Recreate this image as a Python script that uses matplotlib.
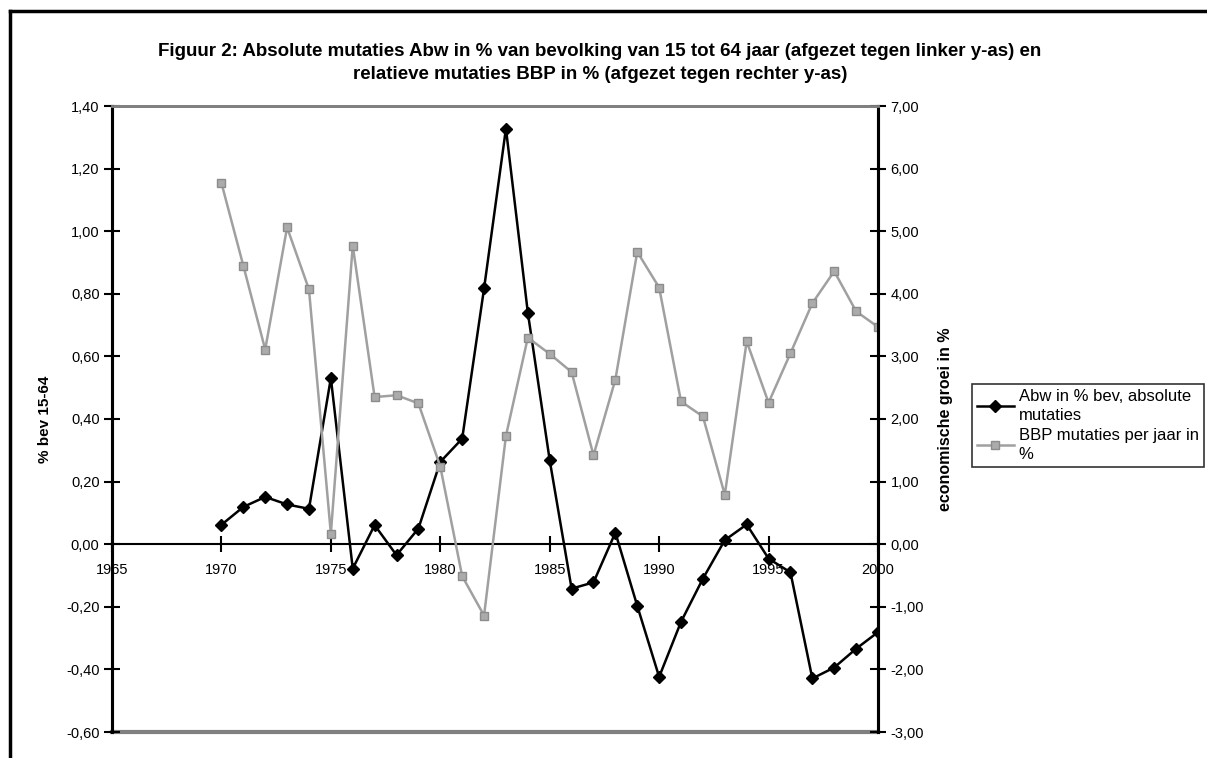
import matplotlib
matplotlib.use("Agg")
import matplotlib.pyplot as plt
from matplotlib.ticker import FuncFormatter, MultipleLocator
from matplotlib.lines import Line2D

plt.rcParams['font.family'] = ['Liberation Sans', 'DejaVu Sans']

years = list(range(1970, 2001))
abw = [0.062, 0.119, 0.151, 0.127, 0.113, 0.531, -0.078, 0.061, -0.035, 0.050,
       0.263, 0.337, 0.817, 1.328, 0.740, 0.268, -0.142, -0.122, 0.037, -0.197,
       -0.424, -0.248, -0.110, 0.013, 0.063, -0.046, -0.090, -0.429, -0.394, -0.334,
       -0.281]
bbp = [5.77, 4.45, 3.11, 5.06, 4.07, 0.17, 4.77, 2.35, 2.38, 2.25,
       1.24, -0.51, -1.14, 1.73, 3.30, 3.04, 2.75, 1.42, 2.63, 4.67,
       4.10, 2.28, 2.04, 0.79, 3.24, 2.26, 3.05, 3.85, 4.36, 3.72,
       3.47]

title = ("Figuur 2: Absolute mutaties Abw in % van bevolking van 15 tot 64 jaar "
         "(afgezet tegen linker y-as) en\nrelatieve mutaties BBP in % (afgezet tegen rechter y-as)")


def komma(v, pos):
    return f"{v:.2f}".replace(".", ",")


W, H = 1207, 758
fig = plt.figure(figsize=(W / 100, H / 100), dpi=100)
ax = fig.add_axes([112 / W, 26 / H, 766 / W, 626 / H])
ax2 = ax.twinx()

l1, = ax.plot(years, abw, color="black", lw=1.8, marker="D", ms=6.5,
              label="Abw in % bev, absolute\nmutaties", zorder=3)
l2, = ax2.plot(years, bbp, color="#a0a0a0", lw=1.8, marker="s", ms=6,
               markerfacecolor="#ababab", markeredgecolor="#8c8c8c",
               label="BBP mutaties per jaar in\n%")

ax.set_xlim(1965, 2000)
ax.set_ylim(-0.6, 1.4)
ax2.set_ylim(-3, 7)
ax.yaxis.set_major_locator(MultipleLocator(0.2))
ax2.yaxis.set_major_locator(MultipleLocator(1))
ax.xaxis.set_major_locator(MultipleLocator(5))
ax.yaxis.set_major_formatter(FuncFormatter(komma))
ax2.yaxis.set_major_formatter(FuncFormatter(komma))

for a in (ax, ax2):
    a.spines["top"].set_color("#808080")
    a.spines["top"].set_linewidth(2)
    a.spines["left"].set_linewidth(2.2)
    a.spines["right"].set_linewidth(2.2)
    a.spines["bottom"].set_visible(False)

ax.spines["bottom"].set_visible(True)
ax.spines["bottom"].set_position(("data", 0))
ax.spines["bottom"].set_linewidth(1.5)
ax.axhline(-0.6, color="#808080", lw=3, clip_on=False, zorder=1)

ax.tick_params(axis="y", direction="inout", length=12, width=1.5, labelsize=10.5, pad=3)
ax2.tick_params(axis="y", direction="inout", length=12, width=1.5, labelsize=10.5, pad=3)
ax.tick_params(axis="x", direction="inout", length=11, width=1.5, labelsize=10.5, pad=8)

ax.set_ylabel("% bev 15-64", fontsize=11, fontweight="bold", labelpad=10)
ax2.set_ylabel("economische groei in %", fontsize=11.5, fontweight="bold", labelpad=10)

fig.text(600 / W, 1 - 63 / H, title, ha="center", va="center",
         fontsize=13.5, fontweight="bold", linespacing=1.4)

leg = fig.legend(handles=[l1, l2], loc="upper left",
                 bbox_to_anchor=(972 / W, 1 - 384 / H), fontsize=12,
                 frameon=True, fancybox=False, handlelength=2.2,
                 handletextpad=0.3, borderpad=0.3, labelspacing=0.3,
                 borderaxespad=0)
for t in leg.get_texts():
    t.set_linespacing(1.35)
leg.get_frame().set_edgecolor("black")
leg.get_frame().set_linewidth(1.2)

# chart frame
fig.add_artist(Line2D([10 / W, 1.0], [1 - 11 / H, 1 - 11 / H], color="black", lw=2.5))
fig.add_artist(Line2D([10 / W, 10 / W], [0, 1 - 11 / H], color="black", lw=2.5))

fig.savefig("out.png", dpi=100)
